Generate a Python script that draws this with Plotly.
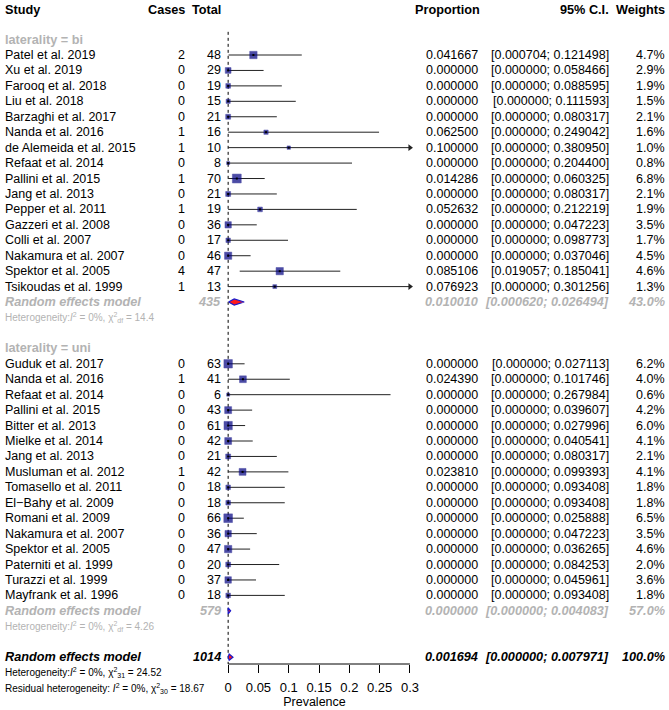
import plotly.graph_objects as go
import math

# ---------------- data ----------------
bi_study = ["Patel et al. 2019", "Xu et al. 2019", "Farooq et al. 2018", "Liu et al. 2018",
            "Barzaghi et al. 2017", "Nanda et al. 2016", "de Alemeida et al. 2015", "Refaat et al. 2014",
            "Pallini et al. 2015", "Jang et al. 2013", "Pepper et al. 2011", "Gazzeri et al. 2008",
            "Colli et al. 2007", "Nakamura et al. 2007", "Spektor et al. 2005", "Tsikoudas et al. 1999"]
bi_cases = [2, 0, 0, 0, 0, 1, 1, 0, 1, 0, 1, 0, 0, 0, 4, 1]
bi_total = [48, 29, 19, 15, 21, 16, 10, 8, 70, 21, 19, 36, 17, 46, 47, 13]
bi_prop = [0.041667, 0.0, 0.0, 0.0, 0.0, 0.0625, 0.1, 0.0, 0.014286, 0.0, 0.052632, 0.0, 0.0, 0.0, 0.085106, 0.076923]
bi_lower = [0.000704, 0, 0, 0, 0, 0, 0, 0, 0, 0, 0, 0, 0, 0, 0.019057, 0]
bi_upper = [0.121498, 0.058466, 0.088595, 0.111593, 0.080317, 0.249042, 0.380950, 0.204400,
            0.060325, 0.080317, 0.212219, 0.047223, 0.098773, 0.037046, 0.185041, 0.301256]
bi_weight = [4.7, 2.9, 1.9, 1.5, 2.1, 1.6, 1.0, 0.8, 6.8, 2.1, 1.9, 3.5, 1.7, 4.5, 4.6, 1.3]

uni_study = ["Guduk et al. 2017", "Nanda et al. 2016", "Refaat et al. 2014", "Pallini et al. 2015",
             "Bitter et al. 2013", "Mielke et al. 2014", "Jang et al. 2013", "Musluman et al. 2012",
             "Tomasello et al. 2011", "El\u2212Bahy et al. 2009", "Romani et al. 2009", "Nakamura et al. 2007",
             "Spektor et al. 2005", "Paterniti et al. 1999", "Turazzi et al. 1999", "Mayfrank et al. 1996"]
uni_cases = [0, 1, 0, 0, 0, 0, 0, 1, 0, 0, 0, 0, 0, 0, 0, 0]
uni_total = [63, 41, 6, 43, 61, 42, 21, 42, 18, 18, 66, 36, 47, 20, 37, 18]
uni_prop = [0.0, 0.024390, 0.0, 0.0, 0.0, 0.0, 0.0, 0.023810, 0.0, 0.0, 0.0, 0.0, 0.0, 0.0, 0.0, 0.0]
uni_lower = [0.0] * 16
uni_upper = [0.027113, 0.101746, 0.267984, 0.039607, 0.027996, 0.040541, 0.080317, 0.099393,
             0.093408, 0.093408, 0.025888, 0.047223, 0.036265, 0.084253, 0.045961, 0.093408]
uni_weight = [6.2, 4.0, 0.6, 4.2, 6.0, 4.1, 2.1, 4.1, 1.8, 1.8, 6.5, 3.5, 4.6, 2.0, 3.6, 1.8]

# pooled: total, estimate, lower, upper, weight
re_bi = [435, 0.010010, 0.000620, 0.026494, 43.0]
re_uni = [579, 0.000000, 0.000000, 0.004083, 57.0]
re_all = [1014, 0.001694, 0.000000, 0.007971, 100.0]
het_bi = "14.4"
het_uni = "4.26"
het_all = ("31", "24.52")
het_resid = ("30", "18.67")

x_ticks = [0, 0.05, 0.1, 0.15, 0.2, 0.25, 0.3]
x_max = 0.3

# ---------------- layout geometry ----------------
W_FIG, H_FIG = 669, 710
ML, MR, MT, MB = 213, 253, 0, 46
PW = W_FIG - ML - MR
PH = H_FIG - MT - MB
ROW0, DY = 55.0, 15.44
y_top = (0 - ROW0) / DY
y_bot = (PH - ROW0) / DY

def px(x):
    return (x - ML) / PW

def py_paper(p):
    return (PH - p) / PH

FONT = "Arial"
FS = 12.5
FSB = 12.7
GRAY = "#b3b3b3"
NAVY = "#000080"

# rows
bi_rows = list(range(0, 16))
uni_rows = list(range(20, 36))
r_bi_lab, r_bi_re, r_bi_het = -1, 16, 17
r_uni_lab, r_uni_re, r_uni_het = 19, 36, 37
r_all = 39

fig = go.Figure()

# reference line
fig.add_trace(go.Scatter(x=[0, 0], y=[-1.5, y_bot], mode="lines",
                         line=dict(color="black", width=1, dash="3px,3px"),
                         hoverinfo="skip", showlegend=False))

# CI lines
xs, ys = [], []
arr_x, arr_y = [], []
for rows, lo, up in [(bi_rows, bi_lower, bi_upper), (uni_rows, uni_lower, uni_upper)]:
    for r, l, u in zip(rows, lo, up):
        xs += [l, min(u, x_max), None]
        ys += [r, r, None]
        if u > x_max:
            arr_x.append(x_max)
            arr_y.append(r)
fig.add_trace(go.Scatter(x=xs, y=ys, mode="lines", line=dict(color="#222222", width=1),
                         hoverinfo="skip", showlegend=False))
fig.add_trace(go.Scatter(x=arr_x, y=arr_y, mode="markers",
                         marker=dict(symbol="triangle-right", size=6, color="#222222"),
                         cliponaxis=False, hoverinfo="skip", showlegend=False))

# squares
sq_x = bi_prop + uni_prop
sq_y = bi_rows + uni_rows
sq_s = [max(3.0, 3.4 * math.sqrt(w)) for w in bi_weight + uni_weight]
fig.add_trace(go.Scatter(x=sq_x, y=sq_y, mode="markers",
                         marker=dict(symbol="square", size=sq_s, color=NAVY,
                                     line=dict(color=NAVY, width=0.5)),
                         cliponaxis=False, hoverinfo="skip", showlegend=False))
fig.add_trace(go.Scatter(x=sq_x, y=sq_y, mode="markers",
                         marker=dict(symbol="square", size=2, color="black"),
                         cliponaxis=False, hoverinfo="skip", showlegend=False))

# diamonds
for r, d in [(r_bi_re, re_bi), (r_uni_re, re_uni), (r_all, re_all)]:
    _, est, lo, up, _w = d
    h = 0.2
    fig.add_trace(go.Scatter(x=[lo, est, up, est, lo], y=[r, r - h, r, r + h, r],
                             mode="lines", fill="toself", fillcolor="#ff1a1a",
                             line=dict(color="#1a1acc", width=1.2),
                             hoverinfo="skip", showlegend=False))

# ---------------- text ----------------
ann = []

def txt(xpix, row, s, anchor="left", color="black", size=None, bold=False, italic=False, paper_y=None):
    if size is None:
        size = FSB if bold else FS
    if bold:
        s = "<b>" + s + "</b>"
    if italic:
        s = "<i>" + s + "</i>"
    d = dict(x=px(xpix), xref="paper", text=s, showarrow=False, xanchor=anchor,
             yanchor="middle", font=dict(family=FONT, size=size, color=color))
    if paper_y is None:
        d.update(y=row, yref="y")
    else:
        d.update(y=paper_y, yref="paper")
    ann.append(d)

X_STUDY, X_CASES, X_TOTAL, X_PROP, X_CI, X_W = 3, 187, 223, 480, 611, 667

hr = (10 - ROW0) / DY
txt(X_STUDY, hr, "Study", bold=True)
txt(X_CASES, hr, "Cases", "right", bold=True)
txt(X_TOTAL, hr, "Total", "right", bold=True)
txt(X_PROP + 2, hr, "Proportion", "right", bold=True)
txt(X_CI, hr, "95% C.I.", "right", bold=True)
txt(X_W, hr, "Weights", "right", bold=True)

label_row_text = {r_bi_lab: "laterality = bi", r_uni_lab: "laterality = uni"}

def study_block(label_row, rows, names, cases, totals, props, lows, ups, ws):
    txt(X_STUDY, label_row, label_row_text[label_row], color=GRAY, bold=True)
    for r, n, c, t, p, l, u, w in zip(rows, names, cases, totals, props, lows, ups, ws):
        txt(X_STUDY, r, n)
        txt(X_CASES, r, str(c), "right")
        txt(X_TOTAL, r, str(t), "right")
        txt(X_PROP, r, f"{p:.6f}", "right")
        txt(X_CI, r, f"[{l:.6f}; {u:.6f}]", "right")
        txt(X_W, r, f"{w:.1f}%", "right")

study_block(r_bi_lab, bi_rows, bi_study, bi_cases, bi_total, bi_prop, bi_lower, bi_upper, bi_weight)
study_block(r_uni_lab, uni_rows, uni_study, uni_cases, uni_total, uni_prop, uni_lower, uni_upper, uni_weight)

def pooled(r, d, color):
    n, est, lo, up, w = d
    txt(X_STUDY, r, "Random effects model", color=color, bold=True, italic=True)
    txt(X_TOTAL, r, str(n), "right", color=color, bold=True, italic=True)
    txt(X_PROP, r, f"{est:.6f}", "right", color=color, bold=True, italic=True)
    txt(X_CI, r, f"[{lo:.6f}; {up:.6f}]", "right", color=color, bold=True, italic=True)
    txt(X_W, r, f"{w:.1f}%", "right", color=color, bold=True, italic=True)

pooled(r_bi_re, re_bi, GRAY)
pooled(r_uni_re, re_uni, GRAY)
pooled(r_all, re_all, "black")

HS = 10
txt(X_STUDY, r_bi_het, "Heterogeneity:<i>I</i><sup>2</sup> = 0%, \u03c7<sup>2</sup><sub>df</sub> = " + het_bi,
    color=GRAY, size=HS)
txt(X_STUDY, r_uni_het, "Heterogeneity:<i>I</i><sup>2</sup> = 0%, \u03c7<sup>2</sup><sub>df</sub> = " + het_uni,
    color=GRAY, size=HS)
txt(X_STUDY, None, "Heterogeneity:<i>I</i><sup>2</sup> = 0%, \u03c7<sup>2</sup><sub>" + het_all[0] + "</sub> = " + het_all[1],
    size=HS, paper_y=py_paper(672))
txt(X_STUDY, None, "Residual heterogeneity: <i>I</i><sup>2</sup> = 0%, \u03c7<sup>2</sup><sub>" + het_resid[0] + "</sub> = " + het_resid[1],
    size=HS, paper_y=py_paper(688))

# axis line (only from 0 to 0.3)
fig.add_shape(type="line", xref="x", yref="paper", x0=x_ticks[0], x1=x_ticks[-1], y0=0, y1=0,
              line=dict(color="black", width=1))

fig.update_layout(
    width=W_FIG, height=H_FIG,
    margin=dict(l=ML, r=MR, t=MT, b=MB, pad=0),
    paper_bgcolor="white", plot_bgcolor="white",
    annotations=ann,
    showlegend=False,
    xaxis=dict(range=[-0.025, 0.31], tickvals=x_ticks, ticktext=[f"{t:g}" for t in x_ticks],
               ticks="outside", ticklen=8, tickwidth=1, tickcolor="black",
               showline=False, showgrid=False, zeroline=False, ticklabelstandoff=3,
               tickfont=dict(family=FONT, size=13, color="black"),
               title=dict(text="Prevalence", font=dict(family=FONT, size=12.5, color="black"), standoff=1)),
    yaxis=dict(range=[y_bot, y_top], visible=False, showgrid=False, zeroline=False),
)

fig.write_html("out.html", config={"displayModeBar": False},
               post_script="document.body.style.margin='0';")
